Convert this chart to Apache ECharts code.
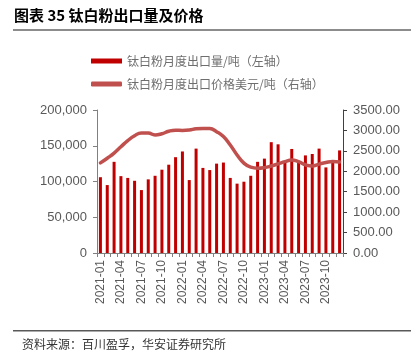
<!DOCTYPE html>
<html><head><meta charset="utf-8">
<script src="https://cdn.jsdelivr.net/npm/echarts@6/dist/echarts.min.js"></script>
<style>html,body{margin:0;padding:0;background:#fff}#c{width:411px;height:361px}</style>
</head><body><div id="c"></div>
<script>
const months = [
 '2021-01','2021-02','2021-03','2021-04','2021-05','2021-06','2021-07','2021-08','2021-09','2021-10','2021-11','2021-12',
 '2022-01','2022-02','2022-03','2022-04','2022-05','2022-06','2022-07','2022-08','2022-09','2022-10','2022-11','2022-12',
 '2023-01','2023-02','2023-03','2023-04','2023-05','2023-06','2023-07','2023-08','2023-09','2023-10','2023-11','2023-12'];
const exportVolume = [
 106000,95000,127500,107500,105000,101000,88000,103000,108000,116500,123500,134000,
 142000,102000,146000,119000,116000,125000,126500,105000,97000,99700,108000,127500,
 132000,155000,152000,128000,145500,128700,136500,138500,146000,119700,126000,143500];
const exportPrice = [
 2205,2320,2445,2600,2750,2870,2940,2935,2890,2920,2980,3005,
 3000,3010,3040,3050,3045,2970,2850,2645,2400,2200,2100,2075,
 2090,2130,2180,2235,2275,2235,2160,2130,2175,2215,2240,2230];
const leftTicks = [0,50000,100000,150000,200000];
const rightTicks = [0,500,1000,1500,2000,2500,3000,3500];
const nameVolume = '钛白粉月度出口量/吨（左轴）';
const namePrice = '钛白粉月度出口价格美元/吨（右轴）';

const chart = echarts.init(document.getElementById('c'), null, {renderer:'canvas'});
const txt = '#595959';
const ff = '"Liberation Sans", Arial, sans-serif';
const cjk = '"Noto Sans CJK SC", sans-serif';
chart.setOption({
  animation:false,
  textStyle:{fontFamily:ff},
  graphic:[
    {type:'text', left:14, top:8, style:{text:'图表 35 钛白粉出口量及价格', font:'bold 15px "Noto Sans CJK SC"', fill:'#000'}},
    {type:'rect', shape:{x:13,y:29,width:398,height:2}, style:{fill:'#8c8c8c'}},
    {type:'rect', shape:{x:13,y:330,width:398,height:1.5}, style:{fill:'#595959'}},
    {type:'text', left:22, top:338, style:{text:'资料来源：百川盈孚，华安证券研究所', font:'12px "Noto Sans CJK SC"', fill:'#333'}}
  ],
  legend:{
    orient:'vertical', left:86, top:50, itemWidth:31, itemHeight:5, itemGap:11,
    textStyle:{fontFamily:cjk, fontSize:12, color:'#6e6e6e', padding:[0,0,0,0]},
    data:[{name:nameVolume, icon:'rect'},{name:namePrice, icon:'roundRect'}]
  },
  grid:{left:97, right:68, top:110, bottom:108},
  xAxis:{
    type:'category', data:months, boundaryGap:true,
    axisLine:{lineStyle:{color:'#808080', width:1}},
    axisTick:{show:true, interval:0, length:4, lineStyle:{color:'#808080'}},
    axisLabel:{rotate:90, interval:2, fontSize:12, color:txt, margin:7, fontFamily:ff}
  },
  yAxis:[
    {type:'value', min:0, max:200000, interval:50000, position:'left',
     axisLine:{show:true, lineStyle:{color:'#808080'}},
     axisTick:{show:true, length:4, inside:false, lineStyle:{color:'#808080'}},
     splitLine:{show:false},
     axisLabel:{fontSize:13, color:txt, margin:10, fontFamily:ff,
       formatter:v=>v.toLocaleString('en-US')}},
    {type:'value', min:0, max:3500, interval:500, position:'right',
     axisLine:{show:true, lineStyle:{color:'#404040'}},
     axisTick:{show:true, length:4, lineStyle:{color:'#404040'}},
     splitLine:{show:false},
     axisLabel:{fontSize:13, color:txt, margin:10, fontFamily:ff,
       formatter:v=>v.toFixed(2)}}
  ],
  series:[
    {name:nameVolume, type:'bar', yAxisIndex:0, data:exportVolume, barWidth:3,
     itemStyle:{color:'#c00000'}},
    {name:namePrice, type:'line', yAxisIndex:1, data:exportPrice, smooth:0.5,
     showSymbol:false, symbol:'none',
     lineStyle:{color:'#c0504d', width:3.5, cap:'round'}, itemStyle:{color:'#c0504d'}}
  ]
});
</script></body></html>
